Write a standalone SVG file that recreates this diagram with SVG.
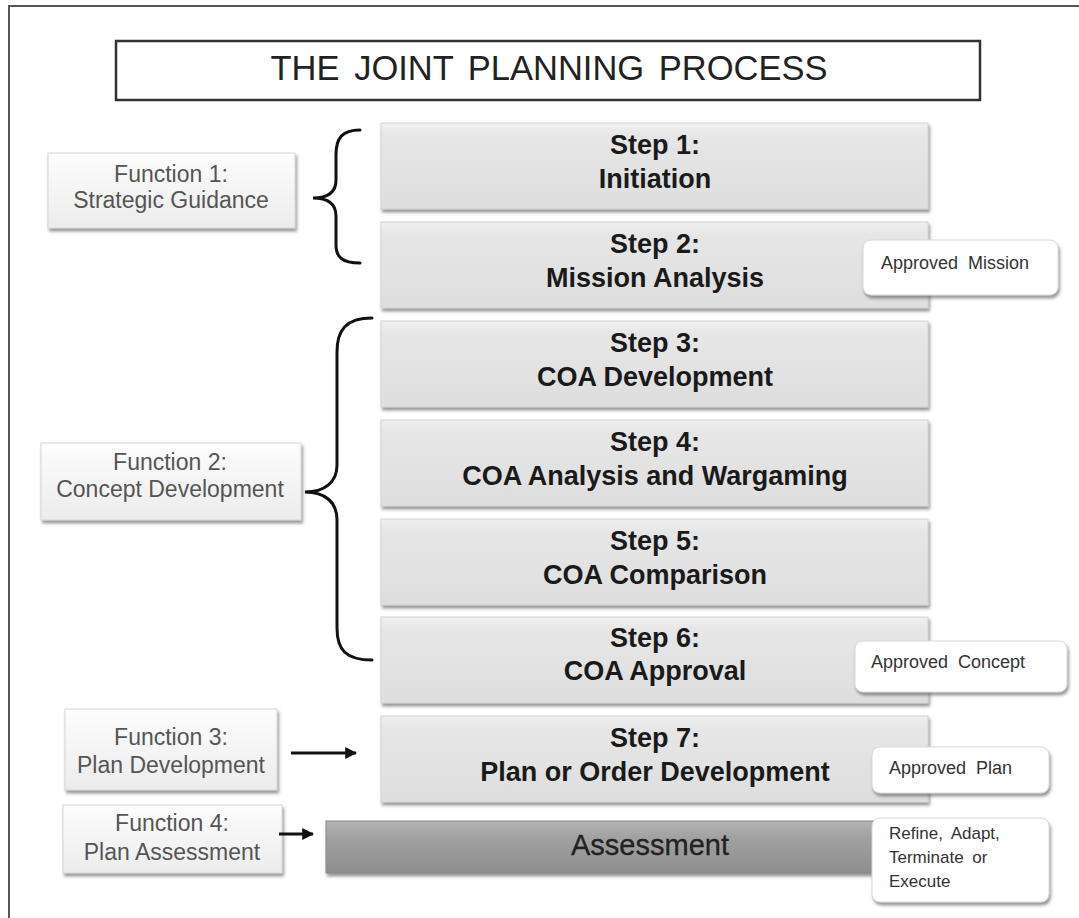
<svg xmlns="http://www.w3.org/2000/svg" width="1079" height="918" viewBox="0 0 1079 918">
<defs>
<linearGradient id="gStep" x1="0" y1="0" x2="0" y2="1">
<stop offset="0" stop-color="#f0f0f0"/><stop offset="0.15" stop-color="#e6e6e6"/><stop offset="1" stop-color="#dedede"/>
</linearGradient>
<linearGradient id="gFunc" x1="0" y1="0" x2="0" y2="1">
<stop offset="0" stop-color="#fdfdfd"/><stop offset="1" stop-color="#ececec"/>
</linearGradient>
<linearGradient id="gAss" x1="0" y1="0" x2="0" y2="1">
<stop offset="0" stop-color="#b4b4b4"/><stop offset="0.3" stop-color="#a2a2a2"/><stop offset="1" stop-color="#8e8e8e"/>
</linearGradient>
<filter id="sh" x="-5%" y="-10%" width="112%" height="130%">
<feDropShadow dx="1.5" dy="3" stdDeviation="1.5" flood-color="#555" flood-opacity="0.6"/>
</filter>
<marker id="arr" viewBox="0 0 10 10" refX="9" refY="5" markerWidth="4" markerHeight="4" orient="auto">
<path d="M0,0 L10,5 L0,10 z" fill="#111"/>
</marker>
<style>
.step{fill:url(#gStep);stroke:#d2d2d2;stroke-width:1;filter:url(#sh)}
.func{fill:url(#gFunc);stroke:#d6d6d6;stroke-width:1;filter:url(#sh)}
.lab{fill:#ffffff;stroke:#d8d8d8;stroke-width:1;filter:url(#sh)}
.st{font-family:"Liberation Sans",Arial,sans-serif;font-weight:bold;font-size:27px;fill:#1a1a1a;text-anchor:middle}
.ft{font-family:"Liberation Sans",Arial,sans-serif;font-size:23px;fill:#555;text-anchor:middle}
.lt{font-family:"Liberation Sans",Arial,sans-serif;font-size:18px;fill:#333;word-spacing:5px}
.brace{fill:none;stroke:#111;stroke-width:3;stroke-linecap:round}
.conn{stroke:#111;stroke-width:3;marker-end:url(#arr)}
</style>
</defs>
<rect x="0" y="0" width="1079" height="918" fill="#ffffff"/>
<path d="M1079,6 H9 V918" fill="none" stroke="#555" stroke-width="2"/>

<g id="title">
<rect x="116" y="41" width="864" height="59" fill="#fff" stroke="#333" stroke-width="2.5"/>
<text x="549" y="80" font-family="'Liberation Sans',Arial,sans-serif" font-size="34.5" fill="#222" text-anchor="middle" word-spacing="5">THE JOINT PLANNING PROCESS</text>
</g>

<g id="step1"><rect class="step" x="381" y="123" width="547" height="86"/>
<text class="st" x="655" y="154">Step 1:</text><text class="st" x="655" y="188">Initiation</text></g>
<g id="step2"><rect class="step" x="381" y="222" width="547" height="86"/>
<text class="st" x="655" y="253">Step 2:</text><text class="st" x="655" y="287">Mission Analysis</text></g>
<g id="step3"><rect class="step" x="381" y="321" width="547" height="86"/>
<text class="st" x="655" y="352">Step 3:</text><text class="st" x="655" y="386">COA Development</text></g>
<g id="step4"><rect class="step" x="381" y="420" width="547" height="86"/>
<text class="st" x="655" y="451">Step 4:</text><text class="st" x="655" y="485">COA Analysis and Wargaming</text></g>
<g id="step5"><rect class="step" x="381" y="519" width="547" height="86"/>
<text class="st" x="655" y="550">Step 5:</text><text class="st" x="655" y="584">COA Comparison</text></g>
<g id="step6"><rect class="step" x="381" y="617" width="547" height="86"/>
<text class="st" x="655" y="647">Step 6:</text><text class="st" x="655" y="680">COA Approval</text></g>
<g id="step7"><rect class="step" x="381" y="716" width="547" height="86"/>
<text class="st" x="655" y="747">Step 7:</text><text class="st" x="655" y="781">Plan or Order Development</text></g>

<g id="assessment"><rect x="326" y="821" width="580" height="52" fill="url(#gAss)" stroke="#888" stroke-width="1" filter="url(#sh)"/>
<text x="650" y="855" font-family="'Liberation Sans',Arial,sans-serif" font-size="29" fill="#222" text-anchor="middle" stroke="#222" stroke-width="0.3">Assessment</text></g>

<g id="func1"><rect class="func" x="48" y="153" width="247" height="75"/>
<text class="ft" x="171" y="182">Function 1:</text><text class="ft" x="171" y="208">Strategic Guidance</text></g>
<g id="func2"><rect class="func" x="41" y="443" width="260" height="77"/>
<text class="ft" x="170" y="470">Function 2:</text><text class="ft" x="170" y="497">Concept Development</text></g>
<g id="func3"><rect class="func" x="65" y="709" width="212" height="81"/>
<text class="ft" x="171" y="745">Function 3:</text><text class="ft" x="171" y="773">Plan Development</text></g>
<g id="func4"><rect class="func" x="63" y="805" width="219" height="68"/>
<text class="ft" x="172" y="831">Function 4:</text><text class="ft" x="172" y="860">Plan Assessment</text></g>

<g id="lab-mission"><rect class="lab" x="863" y="240" width="195" height="55" rx="8"/>
<text class="lt" x="881" y="269">Approved Mission</text></g>
<g id="lab-concept"><rect class="lab" x="855" y="641" width="212" height="51" rx="8"/>
<text class="lt" x="871" y="668">Approved Concept</text></g>
<g id="lab-plan"><rect class="lab" x="872" y="747" width="177" height="46" rx="8"/>
<text class="lt" x="889" y="774">Approved Plan</text></g>
<g id="lab-refine"><rect class="lab" x="872" y="818" width="177" height="84" rx="8"/>
<text class="lt" x="889" y="839" style="font-size:17px;word-spacing:4px">Refine, Adapt,</text><text class="lt" x="889" y="863" style="font-size:17px;word-spacing:4px">Terminate or</text><text class="lt" x="889" y="887" style="font-size:17px">Execute</text></g>

<g id="connectors">
<path class="brace" d="M360,130 C342,130 336,138 336,155 V180 C336,192 328,198 313,198 C328,198 336,204 336,216 V245 C336,257 342,263 360,263"/>
<path class="brace" d="M372,318 C346,318 337,330 337,352 V465 C337,482 325,492 305,492 C325,492 337,502 337,520 V628 C337,650 346,660 372,660"/>
<line class="conn" x1="291" y1="753" x2="356" y2="753"/>
<line class="conn" x1="279" y1="834" x2="313" y2="834"/>
</g>
</svg>
